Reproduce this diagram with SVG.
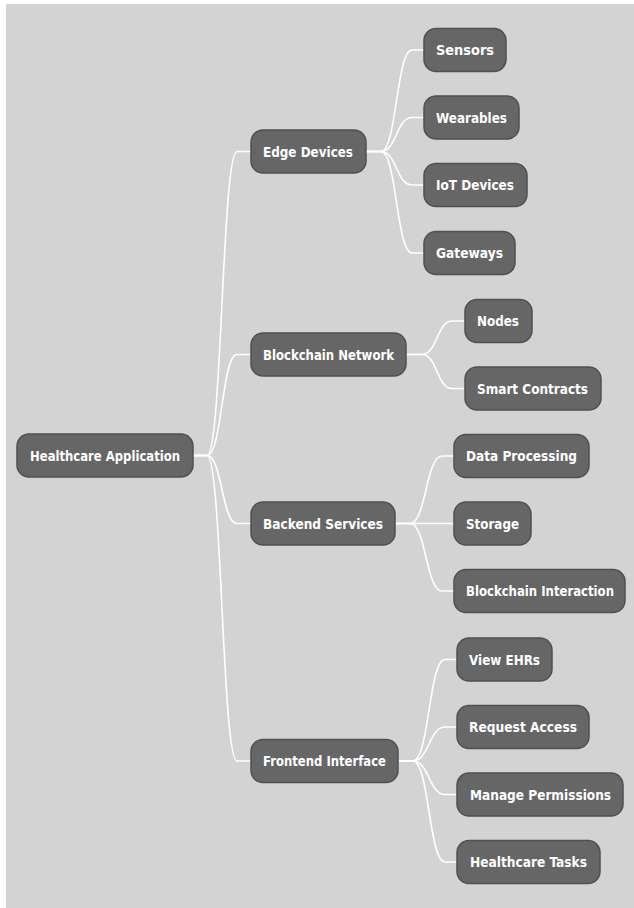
<svg xmlns="http://www.w3.org/2000/svg" width="634" height="908" viewBox="0 0 634 908">
<style>
.bg{fill:#d3d3d3}
.node rect{fill:#666666;stroke:#505050;stroke-width:1.5}
.node text{fill:#ffffff;font-family:"DejaVu Sans Condensed","DejaVu Sans",sans-serif;font-weight:bold;font-size:13.5px}
.links path{fill:none;stroke:#ffffff;stroke-width:1.6}
</style>
<rect x="0" y="0" width="634" height="908" fill="#ffffff"/>
<rect class="bg" x="6" y="4" width="628" height="904"/>
<g class="links">
<path d="M193,455.5 H207 C222,455.5 222,151.5 237,151.5 H251"/>
<path d="M193,455.5 H207 C222,455.5 222,354.5 237,354.5 H251"/>
<path d="M193,455.5 H207 C222,455.5 222,523.5 237,523.5 H251"/>
<path d="M193,455.5 H207 C222,455.5 222,761 237,761 H251"/>
<path d="M366,151.5 H381 C396.5,151.5 396.5,50 412,50 H424"/>
<path d="M366,151.5 H381 C396.5,151.5 396.5,117.5 412,117.5 H424"/>
<path d="M366,151.5 H381 C396.5,151.5 396.5,185 412,185 H424"/>
<path d="M366,151.5 H381 C396.5,151.5 396.5,253 412,253 H424"/>
<path d="M406,354.5 H422 C437,354.5 437,321 452,321 H465"/>
<path d="M406,354.5 H422 C437,354.5 437,388.5 452,388.5 H465"/>
<path d="M395,523.5 H410 C426,523.5 426,456 442,456 H454"/>
<path d="M395,523.5 H454"/>
<path d="M395,523.5 H410 C426,523.5 426,591 442,591 H454"/>
<path d="M398,761 H413 C429,761 429,659.5 445,659.5 H457"/>
<path d="M398,761 H413 C429,761 429,727 445,727 H457"/>
<path d="M398,761 H413 C429,761 429,794.5 445,794.5 H457"/>
<path d="M398,761 H413 C429,761 429,862 445,862 H457"/>
</g>
<g id="root" class="node"><rect x="17" y="434" width="176" height="43" rx="12"/><text x="30" y="460.5" textLength="150" lengthAdjust="spacingAndGlyphs">Healthcare Application</text></g>
<g id="edge" class="node"><rect x="251" y="130" width="115" height="43" rx="12"/><text x="263" y="156.5" textLength="90" lengthAdjust="spacingAndGlyphs">Edge Devices</text></g>
<g id="sensors" class="node"><rect x="424" y="28.5" width="82" height="43" rx="12"/><text x="436" y="55" textLength="58" lengthAdjust="spacingAndGlyphs">Sensors</text></g>
<g id="wearables" class="node"><rect x="424" y="96" width="95" height="43" rx="12"/><text x="436" y="122.5" textLength="71" lengthAdjust="spacingAndGlyphs">Wearables</text></g>
<g id="iot" class="node"><rect x="424" y="163.5" width="103" height="43" rx="12"/><text x="436" y="190" textLength="78" lengthAdjust="spacingAndGlyphs">IoT Devices</text></g>
<g id="gateways" class="node"><rect x="424" y="231.5" width="91" height="43" rx="12"/><text x="436" y="258" textLength="67" lengthAdjust="spacingAndGlyphs">Gateways</text></g>
<g id="blockchain" class="node"><rect x="251" y="333" width="155" height="43" rx="12"/><text x="263" y="359.5" textLength="131" lengthAdjust="spacingAndGlyphs">Blockchain Network</text></g>
<g id="nodes" class="node"><rect x="465" y="299.5" width="67" height="43" rx="12"/><text x="477" y="326" textLength="42" lengthAdjust="spacingAndGlyphs">Nodes</text></g>
<g id="contracts" class="node"><rect x="465" y="367" width="136" height="43" rx="12"/><text x="477" y="393.5" textLength="111" lengthAdjust="spacingAndGlyphs">Smart Contracts</text></g>
<g id="backend" class="node"><rect x="251" y="502" width="144" height="43" rx="12"/><text x="263" y="528.5" textLength="120" lengthAdjust="spacingAndGlyphs">Backend Services</text></g>
<g id="processing" class="node"><rect x="454" y="434.5" width="135" height="43" rx="12"/><text x="466" y="461" textLength="111" lengthAdjust="spacingAndGlyphs">Data Processing</text></g>
<g id="storage" class="node"><rect x="454" y="502" width="77" height="43" rx="12"/><text x="466" y="528.5" textLength="53" lengthAdjust="spacingAndGlyphs">Storage</text></g>
<g id="interaction" class="node"><rect x="454" y="569.5" width="171" height="43" rx="12"/><text x="466" y="596" textLength="148" lengthAdjust="spacingAndGlyphs">Blockchain Interaction</text></g>
<g id="frontend" class="node"><rect x="251" y="739.5" width="147" height="43" rx="12"/><text x="263" y="766" textLength="123" lengthAdjust="spacingAndGlyphs">Frontend Interface</text></g>
<g id="ehrs" class="node"><rect x="457" y="638" width="95" height="43" rx="12"/><text x="469" y="664.5" textLength="71" lengthAdjust="spacingAndGlyphs">View EHRs</text></g>
<g id="access" class="node"><rect x="457" y="705.5" width="132" height="43" rx="12"/><text x="469" y="732" textLength="108" lengthAdjust="spacingAndGlyphs">Request Access</text></g>
<g id="permissions" class="node"><rect x="457" y="773" width="166" height="43" rx="12"/><text x="470" y="799.5" textLength="141" lengthAdjust="spacingAndGlyphs">Manage Permissions</text></g>
<g id="tasks" class="node"><rect x="457" y="840.5" width="143" height="43" rx="12"/><text x="470" y="867" textLength="117" lengthAdjust="spacingAndGlyphs">Healthcare Tasks</text></g>
</svg>
